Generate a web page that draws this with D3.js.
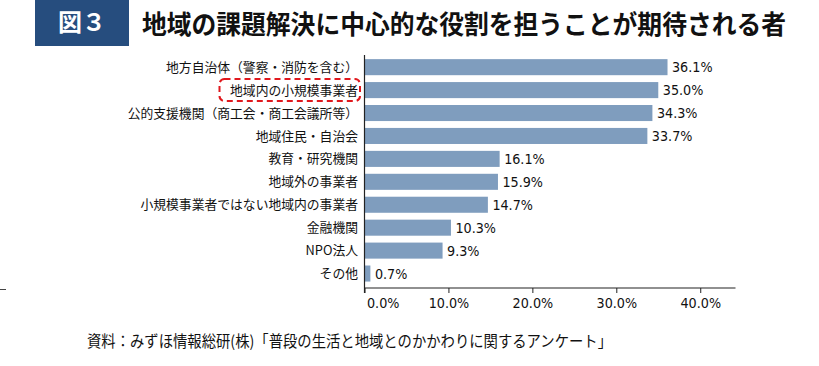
<!DOCTYPE html>
<html><head><meta charset="utf-8">
<script src="https://cdn.jsdelivr.net/npm/d3@7/dist/d3.min.js"></script>
<style>
html,body{margin:0;padding:0;background:#fff;}
svg{display:block;}
</style></head>
<body>
<svg id="chart" width="819" height="366"></svg>
<script>
const categories = ["地方自治体（警察・消防を含む）","地域内の小規模事業者","公的支援機関（商工会・商工会議所等）","地域住民・自治会","教育・研究機関","地域外の事業者","小規模事業者ではない地域内の事業者","金融機関","NPO法人","その他"];
const values = [36.1, 35.0, 34.3, 33.7, 16.1, 15.9, 14.7, 10.3, 9.3, 0.7];
const tickValues = [0, 10, 20, 30, 40];
const highlighted = "地域内の小規模事業者";
const titleBadge = "図３";
const titleText = "地域の課題解決に中心的な役割を担うことが期待される者";
const sourceText = "資料：みずほ情報総研(株)「普段の生活と地域とのかかわりに関するアンケート」";

const svg = d3.select("#chart");
const cjk = "'Noto Sans CJK JP','Noto Sans',sans-serif";
const num = "'DejaVu Sans Condensed','DejaVu Sans',sans-serif";

// Title
svg.append("rect").attr("x",35).attr("y",0).attr("width",94).attr("height",46).attr("fill","#264d7e");
svg.append("text").attr("x",82).attr("y",31).attr("text-anchor","middle")
  .attr("font-family",cjk).attr("font-weight","bold").attr("font-size",24).attr("fill","#fff").text(titleBadge);
svg.append("text").attr("x",142).attr("y",34)
  .attr("font-family",cjk).attr("font-weight","bold").attr("font-size",26).attr("fill","#111")
  .attr("textLength",644).attr("lengthAdjust","spacingAndGlyphs").text(titleText);

// Scales
const x = d3.scaleLinear().domain([0, 44.2]).range([364.5, 735.5]);
const y = d3.scaleBand().domain(categories).range([55.7, 285]).paddingInner(0.3).paddingOuter(0.15);
const axisY = 288;

// Bars
svg.append("g").selectAll("rect").data(categories).join("rect")
  .attr("x", x(0)).attr("y", d => y(d))
  .attr("width", (d,i) => x(values[i]) - x(0))
  .attr("height", y.bandwidth())
  .attr("fill", "#7f9dbe");

// Value labels
svg.append("g").selectAll("text").data(categories).join("text")
  .attr("x", (d,i) => x(values[i]) + 4.5)
  .attr("y", d => y(d) + y.bandwidth()/2)
  .attr("dy","0.36em")
  .attr("font-family",num).attr("font-size",14.2).attr("fill","#111")
  .text((d,i) => values[i].toFixed(1) + "%");

// Category labels
svg.append("g").selectAll("text").data(categories).join("text")
  .attr("x", 358)
  .attr("y", d => y(d) + y.bandwidth()/2)
  .attr("dy","0.36em")
  .attr("text-anchor","end")
  .attr("font-family",cjk).attr("font-size",12.8).attr("fill","#111")
  .text(d => d);

// Highlight box
svg.append("rect")
  .attr("x",219.5).attr("y", y(highlighted) + y.bandwidth()/2 - 11)
  .attr("width",140.5).attr("height",22).attr("rx",5).attr("ry",5)
  .attr("fill","none").attr("stroke","#e0191e").attr("stroke-width",2)
  .attr("stroke-dasharray","6,4");

// Y axis line
svg.append("line").attr("x1",x(0)).attr("x2",x(0)).attr("y1",55).attr("y2",axisY+5)
  .attr("stroke","#222").attr("stroke-width",1.2);

// X axis
const xAxis = d3.axisBottom(x).tickValues(tickValues).tickSize(5).tickSizeOuter(0)
  .tickFormat(d => d.toFixed(1) + "%");
const gx = svg.append("g").attr("transform",`translate(0,${axisY})`).call(xAxis);
gx.select(".domain").attr("stroke","#222").attr("stroke-width",1.2).attr("d",`M${x(0)},0H735.5`);
gx.selectAll(".tick line").attr("stroke","#222");
gx.selectAll(".tick text").attr("font-family",num).attr("font-size",14.2).attr("fill","#111").attr("dy","0.85em");
gx.selectAll(".tick text").filter(d => d === 0).attr("text-anchor","start").attr("dx",2);

// small stray mark at left
svg.append("line").attr("x1",0).attr("x2",6).attr("y1",289.5).attr("y2",289.5).attr("stroke","#444");

// Source
svg.append("text").attr("x",87).attr("y",347)
  .attr("font-family",cjk).attr("font-size",15.5).attr("fill","#111")
  .attr("textLength",525).attr("lengthAdjust","spacingAndGlyphs").text(sourceText);
</script>
</body></html>
